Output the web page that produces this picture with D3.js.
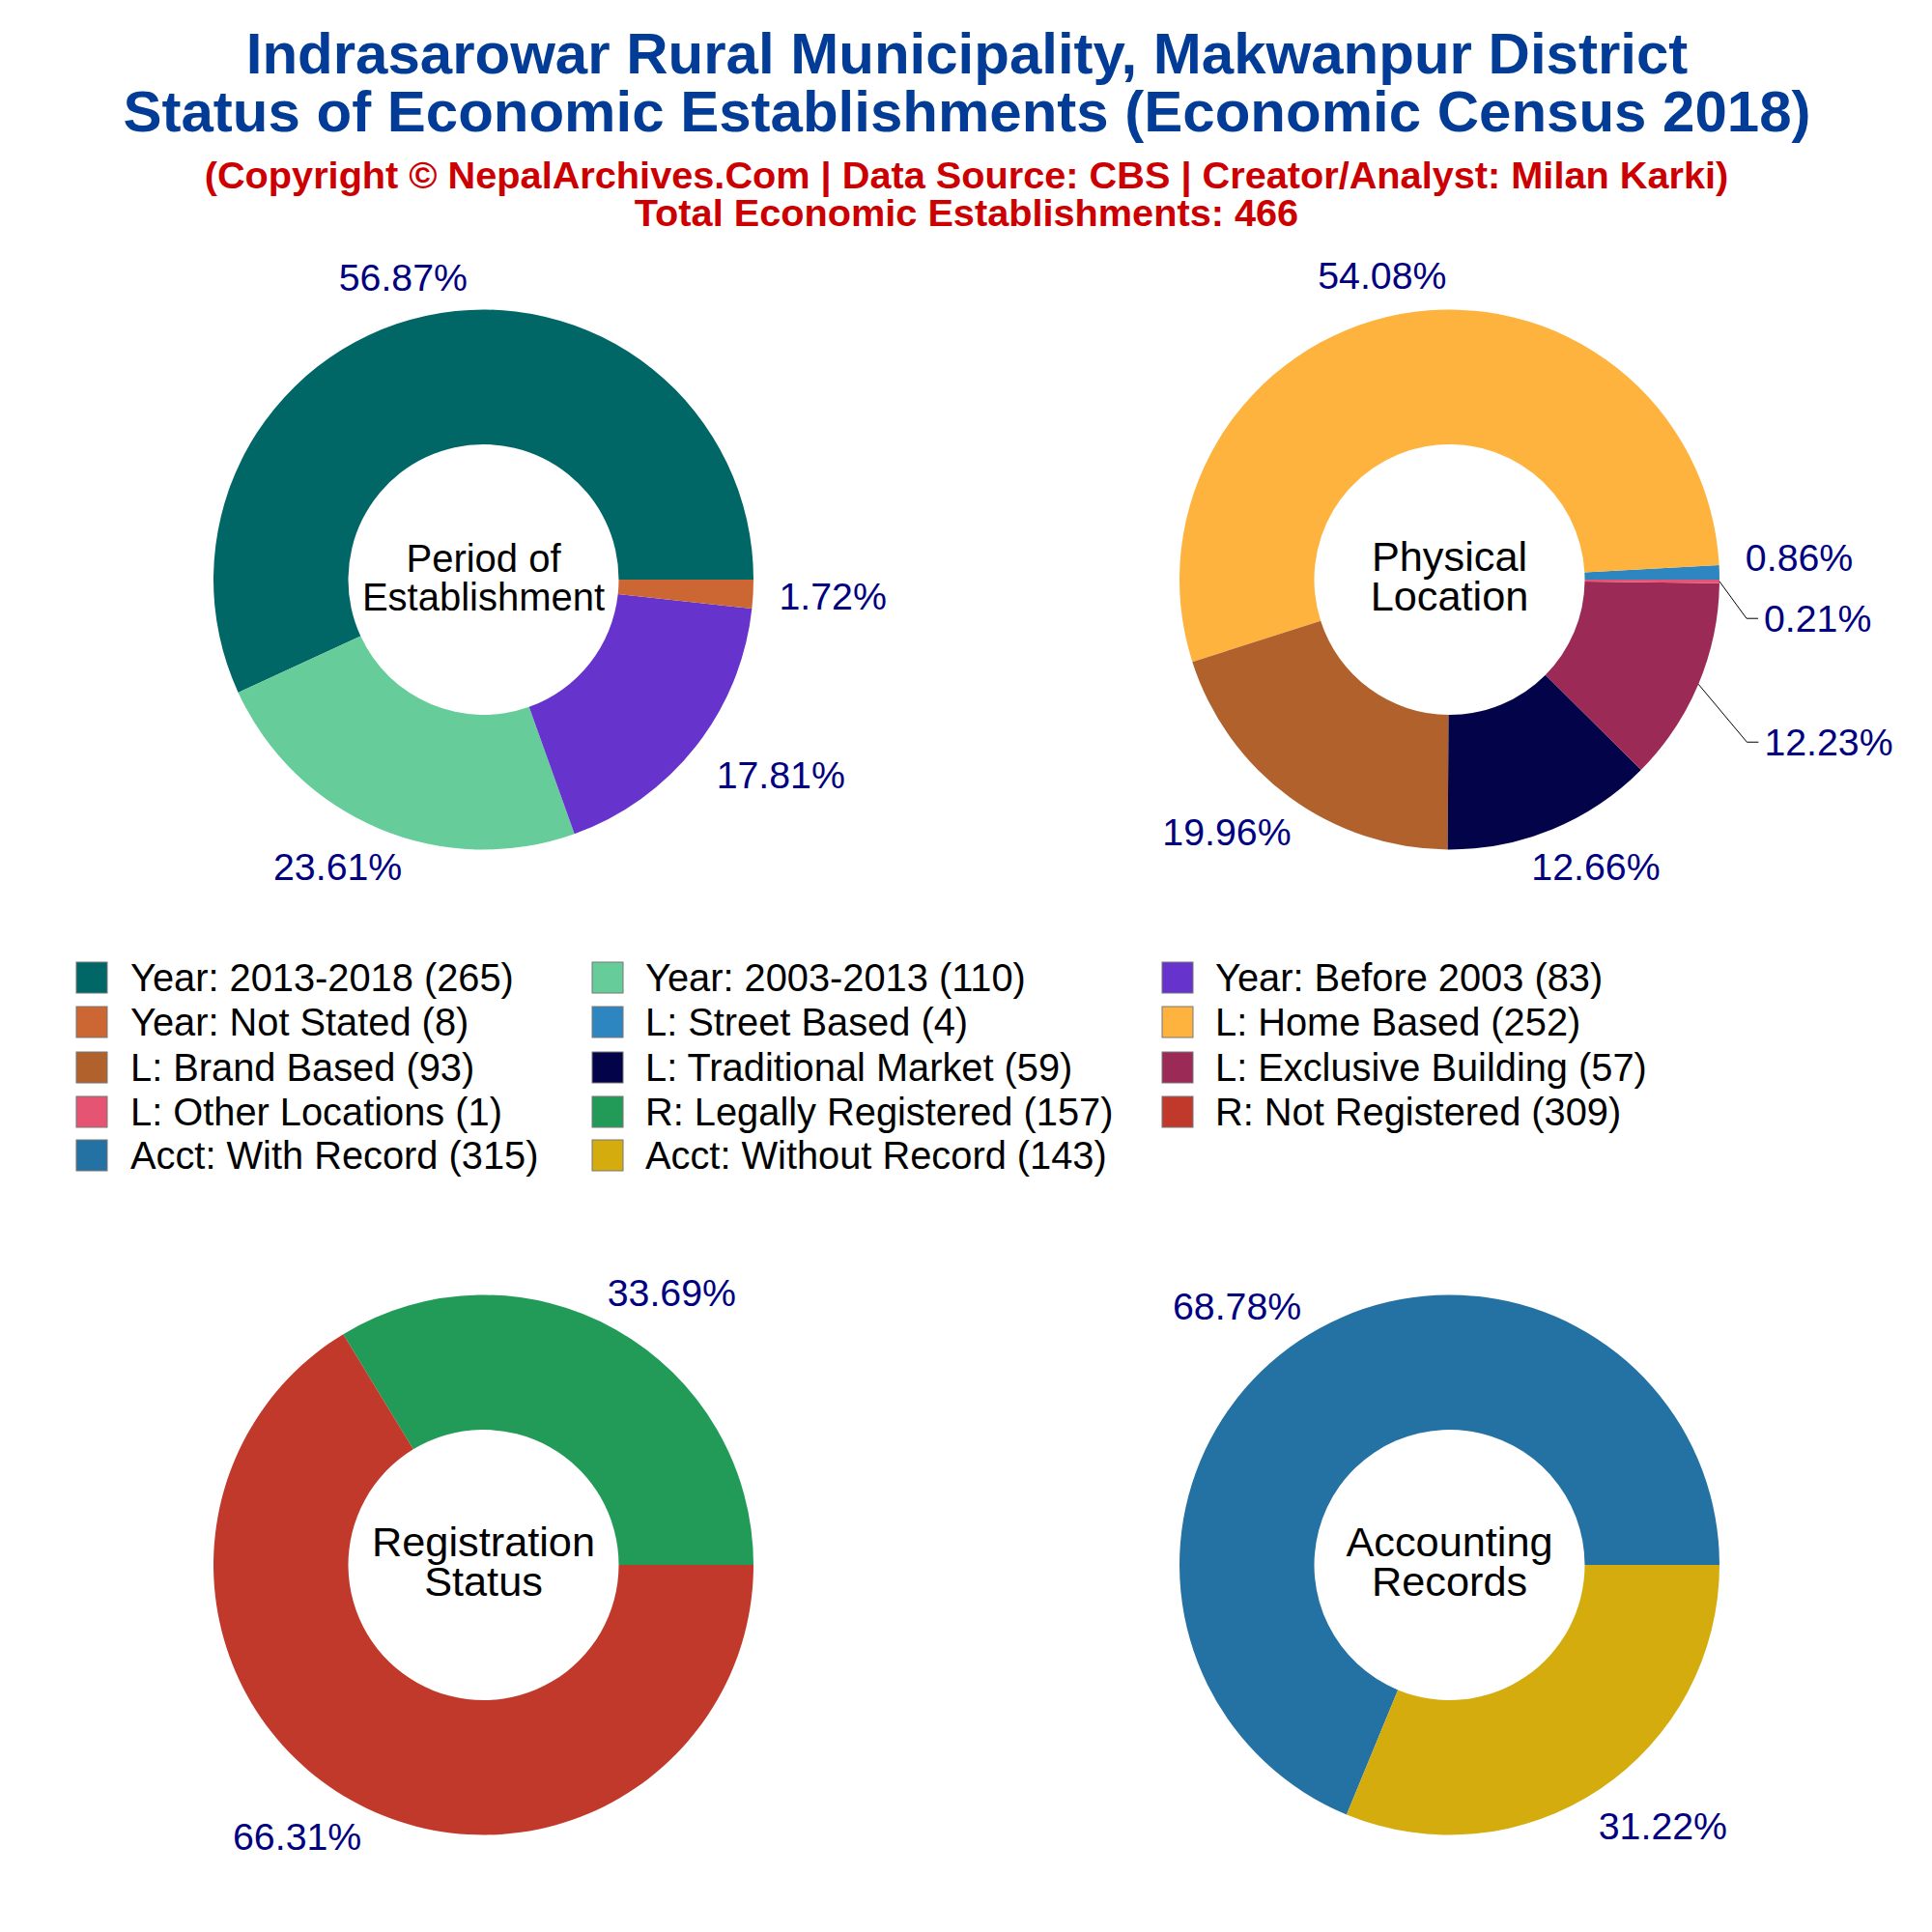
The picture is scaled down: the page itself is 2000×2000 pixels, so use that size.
<!DOCTYPE html>
<html><head><meta charset="utf-8">
<script src="https://cdn.jsdelivr.net/npm/d3@7"></script>
<style>html,body{margin:0;padding:0;background:#fff}svg{display:block;font-family:"Liberation Sans",Arial,sans-serif}</style>
</head><body><div id="chart"></div>
<script>
// ---- data ----
const titleLines = ["Indrasarowar Rural Municipality, Makwanpur District", "Status of Economic Establishments (Economic Census 2018)"];
const subtitleLines = ["(Copyright © NepalArchives.Com | Data Source: CBS | Creator/Analyst: Milan Karki)", "Total Economic Establishments: 466"];

const periodLabels = ["Year: 2013-2018", "Year: 2003-2013", "Year: Before 2003", "Year: Not Stated"];
const periodValues = [265, 110, 83, 8];
const periodColors = ["#006666", "#66CC99", "#6633CC", "#CC6633"];

const locationLabels = ["L: Street Based", "L: Home Based", "L: Brand Based", "L: Traditional Market", "L: Exclusive Building", "L: Other Locations"];
const locationValues = [4, 252, 93, 59, 57, 1];
const locationColors = ["#2E86C1", "#FFB33F", "#B1622C", "#030349", "#9C2A56", "#E55473"];

const registrationLabels = ["R: Legally Registered", "R: Not Registered"];
const registrationValues = [157, 309];
const registrationColors = ["#229A58", "#C0392B"];

const accountingLabels = ["Acct: With Record", "Acct: Without Record"];
const accountingValues = [315, 143];
const accountingColors = ["#2471A3", "#D4AC0D"];

const legendOrder = [
  ["Year: 2013-2018", "Year: 2003-2013", "Year: Before 2003"],
  ["Year: Not Stated", "L: Street Based", "L: Home Based"],
  ["L: Brand Based", "L: Traditional Market", "L: Exclusive Building"],
  ["L: Other Locations", "R: Legally Registered", "R: Not Registered"],
  ["Acct: With Record", "Acct: Without Record"]
];

// ---- layout ----
const W = 2000, H = 2000, R = 279.5, r0 = 140, gap = 33;
const pies = [
  {cx: 500.5,  cy: 600,  title: ["Period of", "Establishment"], tsize: 40, ty: -22, lh: 40,
   labels: periodLabels, values: periodValues, colors: periodColors,
   nudges: {0: [-2, 8], 1: [-4, -6], 2: [10, -1], 3: [-6, 0]}},
  {cx: 1500.5, cy: 600,  title: ["Physical", "Location"], tsize: 43.3, ty: -24, lh: 41,
   labels: locationLabels, values: locationValues, colors: locationColors,
   nudges: {0: [-6, -14], 1: [-1, 8], 2: [-6, -3], 3: [7, -6], 4: [43, 41], 5: [13, 38]}, connectors: [5, 4]},
  {cx: 500.5,  cy: 1620, title: ["Registration", "Status"], tsize: 43.3, ty: -24, lh: 41,
   labels: registrationLabels, values: registrationValues, colors: registrationColors,
   nudges: {0: [9, 5], 1: [-7, -5]}},
  {cx: 1500.5, cy: 1620, title: ["Accounting", "Records"], tsize: 43.3, ty: -24, lh: 41,
   labels: accountingLabels, values: accountingValues, colors: accountingColors,
   nudges: {0: [-9, 5], 1: [10, -3]}}
];
const legendColX = [79, 613, 1203], legendTextDx = [56, 55, 55], legendRowY = [1012, 1058, 1105, 1151, 1196];

const svg = d3.select("#chart").append("svg").attr("width", W).attr("height", H).attr("viewBox", [0, 0, W, H]);
svg.append("rect").attr("width", W).attr("height", H).attr("fill", "#fff");

// titles
svg.selectAll(".t").data(titleLines).join("text").attr("class", "t")
  .attr("x", 1001).attr("y", (d, i) => 76 + i * 60).attr("text-anchor", "middle")
  .attr("font-size", 60).attr("font-weight", 700).attr("fill", "#023C96").text(d => d);
svg.selectAll(".s").data(subtitleLines).join("text").attr("class", "s")
  .attr("x", 1000.5).attr("y", (d, i) => 195 + i * 39).attr("text-anchor", "middle")
  .attr("font-size", 39.7).attr("font-weight", 700).attr("fill", "#CC0000").text(d => d);

// pies
const pieGen = d3.pie().sort(null).startAngle(Math.PI / 2).endAngle(Math.PI / 2 - 2 * Math.PI);
const arcGen = d3.arc().innerRadius(r0).outerRadius(R);
const lineGen = d3.line();

pies.forEach(p => {
  const g = svg.append("g").attr("transform", `translate(${p.cx},${p.cy})`);
  const total = d3.sum(p.values);
  const color = d3.scaleOrdinal().domain(p.labels).range(p.colors);
  const arcs = pieGen(p.values);
  g.selectAll("path.slice").data(arcs).join("path").attr("class", "slice")
    .attr("d", arcGen).attr("fill", (d, i) => color(p.labels[i]));

  const pct = g.selectAll("text.pct").data(arcs).join("text").attr("class", "pct")
    .attr("text-anchor", "middle").attr("dy", "0.35em")
    .attr("font-size", 39.3).attr("fill", "#000080")
    .text(d => (d.value / total * 100).toFixed(2) + "%");

  pct.each(function (d, i) {
    const mid = (d.startAngle + d.endAngle) / 2;
    const ux = Math.sin(mid), uy = -Math.cos(mid);
    const w = this.getComputedTextLength(), h = 32;
    const nudge = (p.nudges && p.nudges[i]) || [0, 0];
    const x = (R + gap) * ux + w / 2 * ux + nudge[0];
    const y = (R + gap) * uy + h / 2 * uy + nudge[1];
    d3.select(this).attr("x", x).attr("y", y);
    if (p.connectors && p.connectors.includes(i)) {
      const left = x - w / 2;
      g.append("path").attr("fill", "none").attr("stroke", "#000").attr("stroke-width", 1)
        .attr("d", lineGen([[R * ux, R * uy], [left - 18, y], [left - 6, y]]));
    }
  });

  g.selectAll("text.ctr").data(p.title).join("text").attr("class", "ctr")
    .attr("x", 0).attr("y", (d, i) => p.ty + i * p.lh).attr("dy", "0.35em")
    .attr("text-anchor", "middle").attr("font-size", p.tsize).attr("fill", "#000").text(d => d);
});

// legend
const lookup = new Map();
pies.forEach(p => p.labels.forEach((l, i) => lookup.set(l, {color: p.colors[i], value: p.values[i]})));
legendOrder.forEach((row, ri) => row.forEach((name, ci) => {
  const it = lookup.get(name), x = legendColX[ci], y = legendRowY[ri];
  svg.append("rect").attr("x", x).attr("y", y - 16).attr("width", 32).attr("height", 32)
    .attr("fill", it.color).attr("stroke", "#777").attr("stroke-width", 1);
  svg.append("text").attr("x", x + legendTextDx[ci]).attr("y", y).attr("dy", "0.35em")
    .attr("font-size", 39.8).attr("fill", "#000").text(`${name} (${it.value})`);
}));
</script></body></html>
